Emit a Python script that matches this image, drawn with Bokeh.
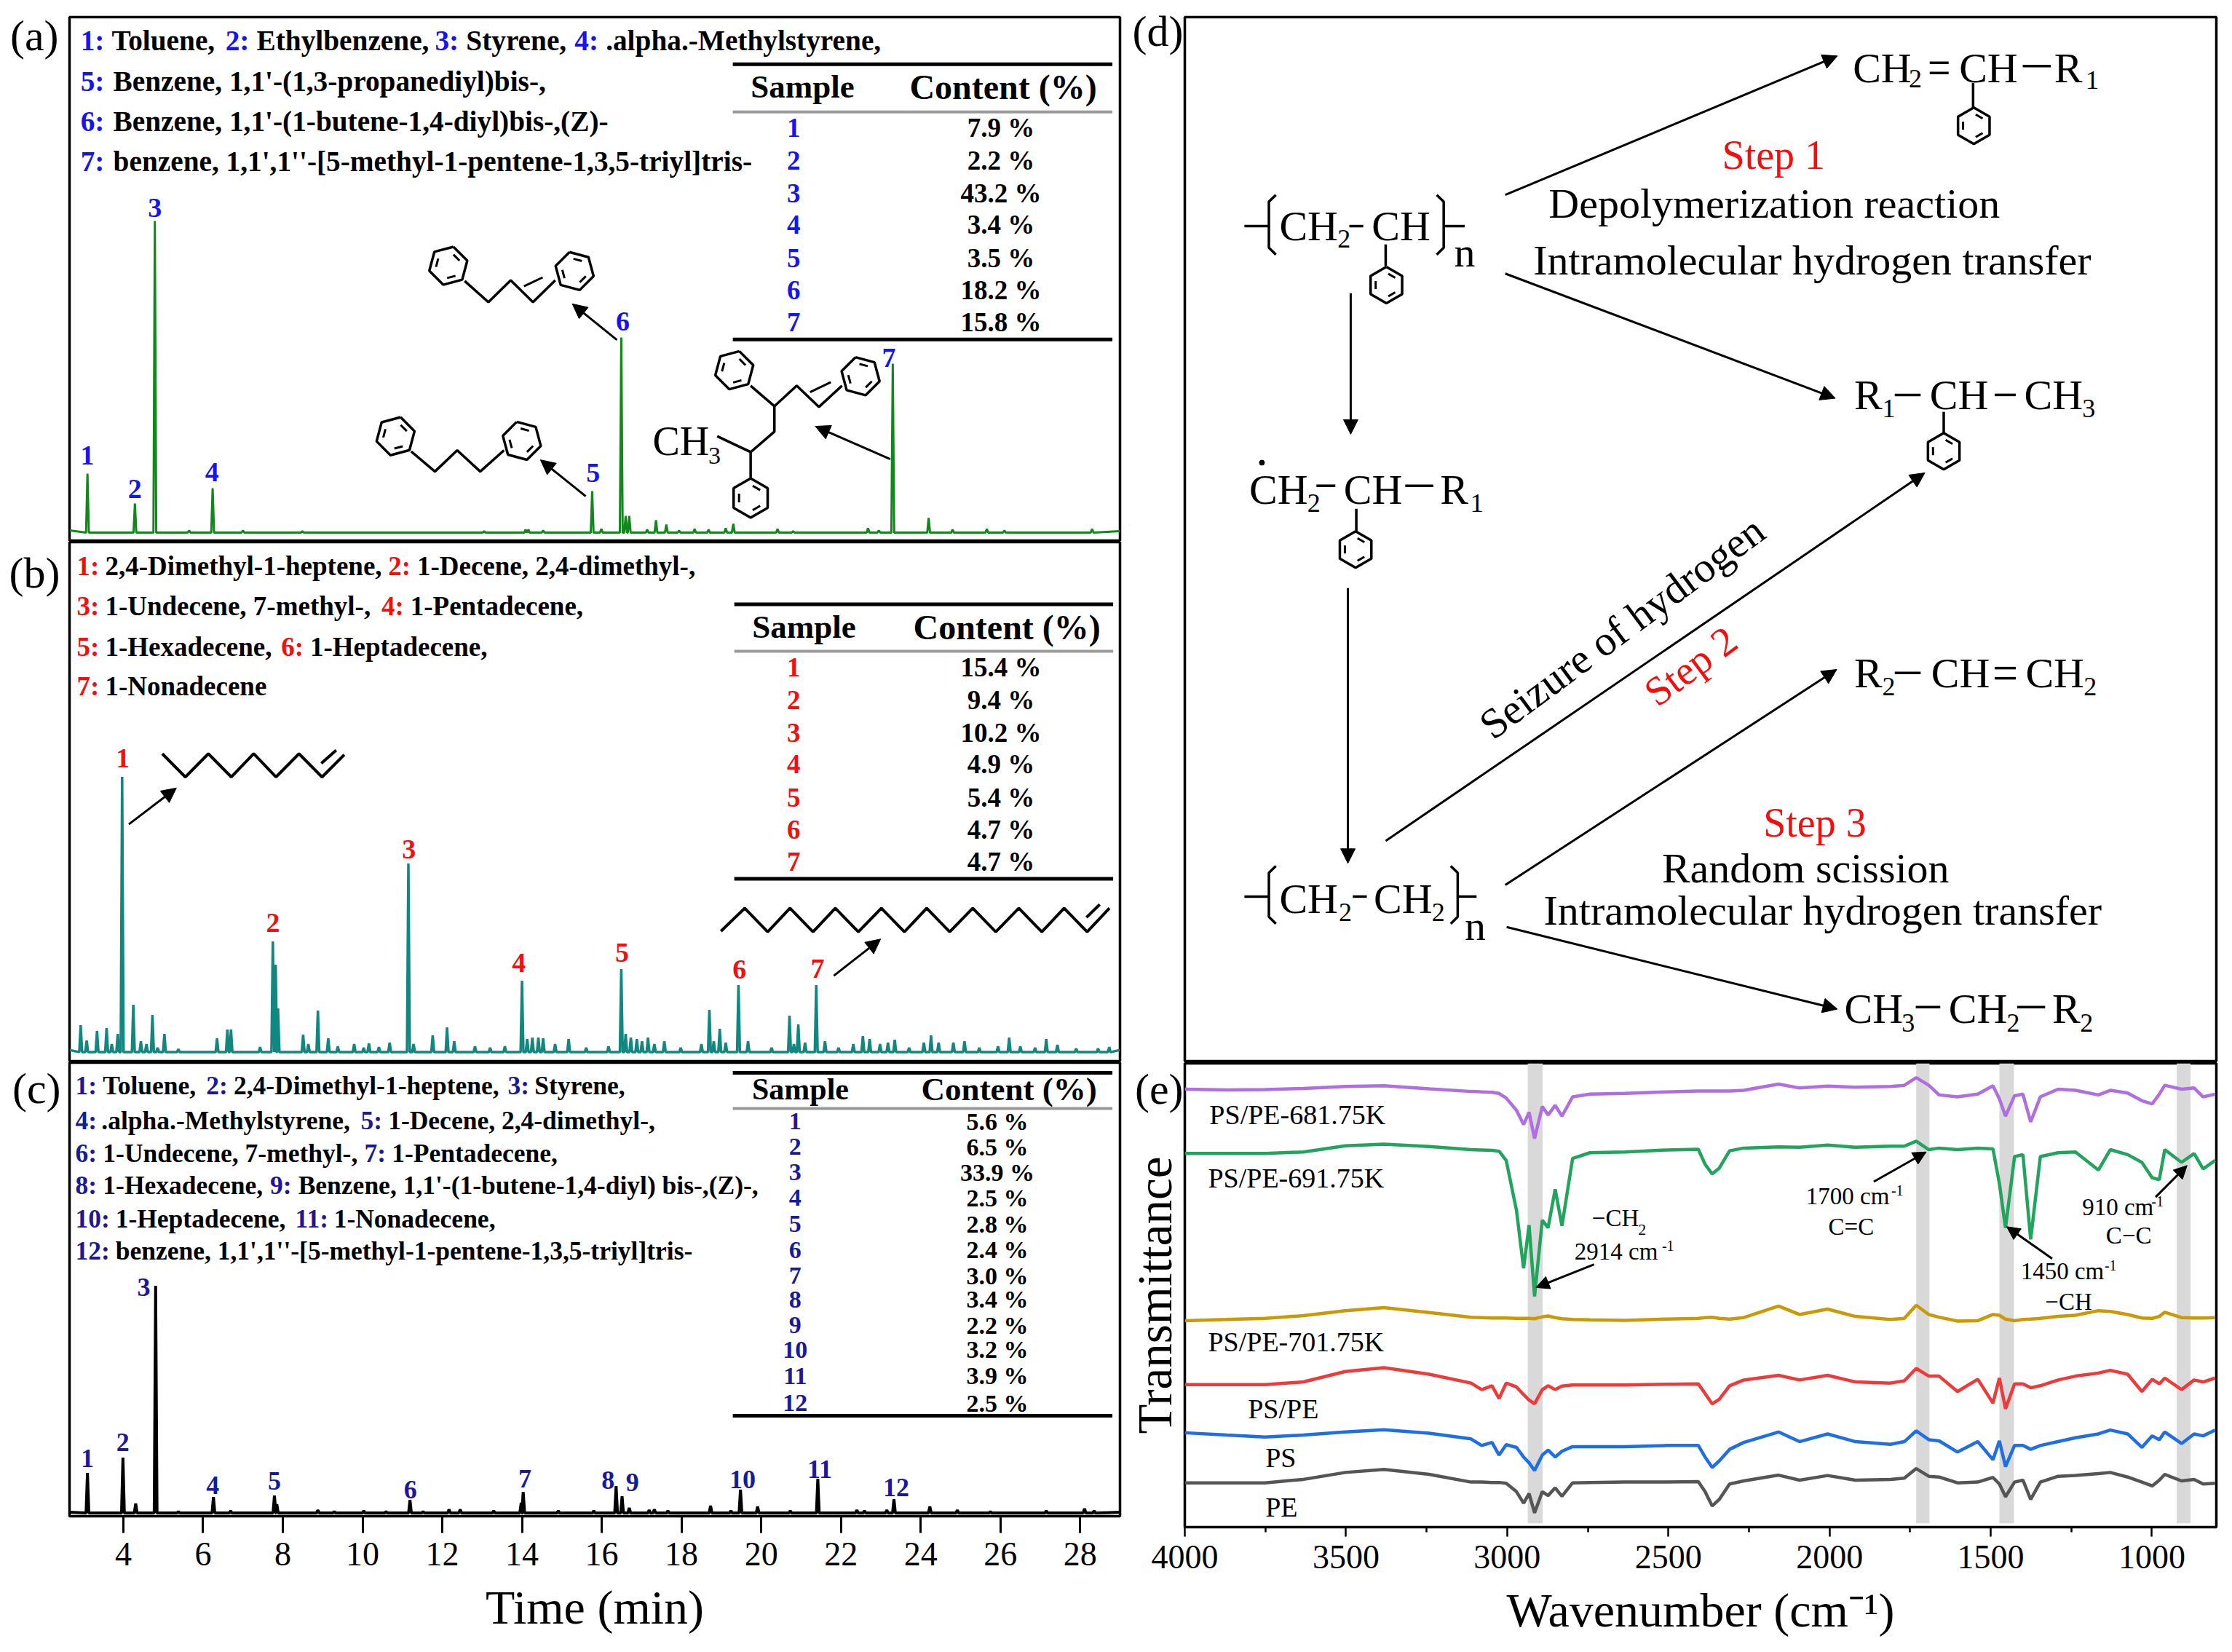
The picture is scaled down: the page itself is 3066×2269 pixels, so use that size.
import math
from bokeh.embed import file_html
from bokeh.layouts import column, row
from bokeh.models import Arrow, FixedTicker, Label, NormalHead, Range1d
from bokeh.plotting import figure
from bokeh.resources import INLINE

# ---------- data ----------
a_rt = [3.10, 4.29, 4.79, 5.65, 6.24, 7.00, 8.49, 13.05, 14.09, 14.16, 14.53, 15.76, 15.99, 16.49, 16.60, 16.69,
        17.14, 17.36, 17.62, 17.94, 18.33, 18.68, 19.11, 19.30, 20.41, 20.80, 22.68, 22.95, 23.30, 24.20, 24.80,
        25.66, 26.10, 28.30]
a_int = [81, 40, 428, 3, 61, 3, 2, 2, 4, 4, 3, 57, 5, 268, 23, 23, 4, 17, 11, 3, 5, 4, 6, 12, 5, 2, 6, 3, 232, 20, 4, 5, 3, 5]

b_rt = [2.93, 3.08, 3.34, 3.58, 3.71, 3.86, 3.97, 4.25, 4.44, 4.58, 4.73, 4.86, 5.03, 5.38, 6.35, 6.61, 6.70, 7.43,
        7.75, 7.82, 7.88, 8.51, 8.64, 8.88, 9.14, 9.38, 9.79, 10.03, 10.16, 10.41, 10.68, 11.15, 11.28, 11.76, 12.12,
        12.30, 12.82, 13.20, 13.57, 14.00, 14.13, 14.26, 14.41, 14.53, 14.83, 15.17, 15.61, 16.17, 16.49, 16.60, 16.73,
        16.88, 17.01, 17.16, 17.32, 17.57, 17.98, 18.50, 18.70, 18.81, 18.96, 19.11, 19.43, 19.67, 20.26, 20.71, 20.82,
        20.93, 21.10, 21.38, 21.60, 21.94, 22.31, 22.55, 22.72, 22.98, 23.18, 23.35, 23.71, 24.08, 24.26, 24.45, 24.82,
        25.10, 25.47, 25.94, 26.22, 26.50, 26.87, 27.15, 27.43, 27.90, 28.45, 28.73]
b_int = [37, 16, 29, 33, 11, 25, 378, 65, 15, 11, 51, 6, 25, 4, 19, 31, 31, 7,
         152, 120, 60, 24, 11, 57, 19, 8, 11, 6, 12, 7, 13, 259, 11, 23, 34,
         15, 8, 6, 8, 98, 18, 20, 20, 19, 11, 18, 6, 8, 114, 25, 20,
         18, 15, 20, 11, 15, 6, 11, 58, 15, 32, 13, 92, 15, 6, 50, 11,
         38, 13, 92, 15, 6, 11, 22, 18, 11, 13, 17, 6, 13, 23, 13, 13,
         15, 6, 8, 20, 8, 6, 18, 10, 5, 5, 7]

c_rt = [3.10, 3.99, 4.31, 4.81, 5.38, 6.26, 6.69, 7.79, 7.85, 8.88, 9.29, 10.03, 10.59, 11.19, 11.52, 12.17, 12.45, 13.29,
        13.98, 14.03, 14.91, 15.80, 16.36, 16.51, 16.69, 17.19, 17.32, 17.66, 18.73, 19.24, 19.48, 19.91, 20.73, 21.42,
        22.40, 22.59, 23.15, 23.33, 24.23, 24.92, 25.75, 27.15, 28.11, 28.35]
c_int = [55, 76, 13, 312, 2, 22, 3, 24, 12, 4, 2, 3, 2, 18, 2, 5, 5, 3,
         14, 29, 3, 3, 37, 23, 7, 4, 5, 3, 10, 3, 32, 9, 3, 47,
         4, 3, 4, 19, 9, 4, 2, 3, 6, 3]

time_ticks = [4, 6, 8, 10, 12, 14, 16, 18, 20, 22, 24, 26, 28]

table_a = ["7.9 %", "2.2 %", "43.2 %", "3.4 %", "3.5 %", "18.2 %", "15.8 %"]
table_b = ["15.4 %", "9.4 %", "10.2 %", "4.9 %", "5.4 %", "4.7 %", "4.7 %"]
table_c = ["5.6 %", "6.5 %", "33.9 %", "2.5 %", "2.8 %", "2.4 %", "3.0 %", "3.4 %", "2.2 %", "3.2 %", "3.9 %", "2.5 %"]

wavenumber = [4000, 3870, 3751, 3632, 3502, 3382, 3242, 3112, 3079, 3047, 3025, 3003, 2971, 2949, 2932, 2915, 2891, 2873,
              2851, 2830, 2797, 2743, 2635, 2505, 2407, 2386, 2364, 2342, 2310, 2266, 2158, 2093, 2006, 1920, 1811, 1768,
              1731, 1692, 1660, 1603, 1540, 1493, 1473, 1454, 1426, 1400, 1376, 1346, 1291, 1237, 1166, 1129, 1075, 1031,
              999, 977, 960, 908, 869, 841, 804]
ps_pe_681 = [105, 107, 106, 103, 98, 96, 104, 111, 112, 113, 116, 128, 160, 197, 165, 233, 150, 172, 147, 175, 125, 118, 116,
             112, 110, 110, 110, 110, 110, 108, 92, 102, 97, 100, 98, 95, 75, 95, 120, 125, 118, 96, 130, 175, 122, 118,
             190, 125, 105, 108, 120, 108, 115, 135, 143, 118, 95, 105, 102, 125, 118]
ps_pe_691 = [272, 272, 272, 268, 252, 248, 254, 262, 263, 264, 266, 290, 420, 570, 458, 643, 445, 465, 365, 460, 285, 270, 268,
             263, 261, 300, 325, 310, 265, 258, 255, 256, 250, 256, 253, 253, 240, 262, 258, 262, 258, 260, 350, 465, 280,
             275, 495, 280, 270, 268, 315, 262, 275, 295, 335, 340, 262, 295, 272, 312, 290]
ps_pe_701 = [706, 703, 700, 693, 680, 672, 685, 697, 698, 699, 699, 699, 700, 700, 700, 701, 696, 694, 698, 701, 703, 704, 705,
             702, 700, 698, 697, 700, 702, 698, 668, 690, 676, 695, 703, 700, 666, 690, 697, 707, 706, 690, 692, 702, 706,
             703, 702, 700, 695, 692, 680, 682, 690, 699, 700, 695, 684, 698, 699, 699, 698]
ps_pe = [872, 872, 872, 865, 838, 828, 845, 868, 885, 875, 908, 868, 878, 898, 912, 922, 885, 875, 885, 876, 873, 873, 873,
         871, 870, 895, 922, 910, 875, 860, 848, 860, 848, 865, 868, 862, 830, 850, 850, 890, 858, 920, 855, 935, 870,
         870, 880, 875, 860, 850, 842, 835, 845, 890, 858, 870, 855, 885, 860, 865, 855]
ps = [997, 1003, 1008, 1003, 995, 989, 998, 1013, 1030, 1022, 1055, 1028, 1035, 1060, 1075, 1095, 1055, 1042, 1060, 1045, 1033,
      1033, 1033, 1030, 1030, 1060, 1087, 1070, 1040, 1022, 995, 1020, 1000, 1020, 1027, 1020, 992, 1015, 1018, 1047, 1020,
      1067, 1018, 1085, 1030, 1030, 1040, 1030, 1020, 1010, 1000, 990, 1000, 1035, 1005, 1015, 995, 1025, 1000, 1005, 990]
pe = [1127, 1127, 1127, 1118, 1100, 1092, 1105, 1125, 1125, 1126, 1126, 1128, 1150, 1180, 1155, 1205, 1150, 1160, 1140, 1162,
      1127, 1126, 1125, 1125, 1124, 1150, 1187, 1170, 1130, 1122, 1107, 1120, 1108, 1120, 1118, 1115, 1090, 1110, 1112, 1127,
      1125, 1113, 1130, 1163, 1125, 1120, 1170, 1125, 1110, 1108, 1103, 1100, 1112, 1125, 1135, 1120, 1105, 1122, 1118, 1130, 1128]
band_left = [2936, 1731, 1473, 923]
band_right = [2890, 1690, 1428, 880]
wn_ticks = [4000, 3500, 3000, 2500, 2000, 1500, 1000]
wn_minor = [3750, 3250, 2750, 2250, 1750, 1250]

SERIF = "Liberation Serif"
BLUE, RED, NAVY = "#1515f0", "#f01010", "#1a1a96"


class Panel:
    def __init__(self, fig, frame, zoom):
        self.fig = fig
        self.fl, self.fr, self.ft, self.fb = frame
        self.ox, self.oy, self.sx, self.sy = zoom

    def z(self, zx, zy):
        return self.ox + zx / self.sx, self.oy + zy / self.sy

    def d(self, px, py):
        xr, yr = self.fig.x_range, self.fig.y_range
        x = xr.start + (px - self.fl) / (self.fr - self.fl) * (xr.end - xr.start)
        y = yr.end + (py - self.ft) / (self.fb - self.ft) * (yr.start - yr.end)
        return x, y

    def dz(self, zx, zy):
        return self.d(*self.z(zx, zy))

    def text(self, zx, zy, txt, size, color="black", bold=False, align="left", angle=0):
        x, y = self.dz(zx, zy)
        self.fig.add_layout(Label(x=x, y=y, text=txt, text_font=SERIF, text_font_size=f"{size}px", text_color=color,
                                  text_font_style="bold" if bold else "normal", text_align=align,
                                  text_baseline="middle", angle=angle, angle_units="deg"))

    def poly(self, pts, width=3.5, color="black"):
        q = [self.dz(*t) for t in pts]
        self.fig.line([a for a, _ in q], [b for _, b in q], line_color=color, line_width=width)

    def arrow(self, x0, y0, x1, y1, size=20, width=3):
        a, b = self.dz(x0, y0), self.dz(x1, y1)
        self.fig.add_layout(Arrow(end=NormalHead(size=size, fill_color="black", line_color="black", line_width=1),
                                  x_start=a[0], y_start=a[1], x_end=b[0], y_end=b[1], line_width=width, line_color="black"))

    def ring(self, zx, zy, r=27, rot=0, width=3.5):
        cx, cy = self.z(zx, zy)
        pts = [(cx + r * math.sin(math.radians(rot + 60 * i)), cy - r * math.cos(math.radians(rot + 60 * i))) for i in range(7)]
        q = [self.d(*t) for t in pts]
        self.fig.line([a for a, _ in q], [b for _, b in q], line_color="black", line_width=width)
        for i in (0, 2, 4):
            s = [(cx + 0.68 * (pts[i][0] - cx) + 0.12 * (pts[i + 1][0] - pts[i][0]), cy + 0.68 * (pts[i][1] - cy) + 0.12 * (pts[i + 1][1] - pts[i][1])),
                 (cx + 0.68 * (pts[i + 1][0] - cx) - 0.12 * (pts[i + 1][0] - pts[i][0]), cy + 0.68 * (pts[i + 1][1] - cy) - 0.12 * (pts[i + 1][1] - pts[i][1]))]
            qq = [self.d(*t) for t in s]
            self.fig.line([a for a, _ in qq], [b for _, b in qq], line_color="black", line_width=width - 0.5)


def make_fig(w, h, borders, xr, yr, letter, letter_y, standoff, axis=False):
    l, r, t, b = borders
    p = figure(width=w, height=h, x_range=Range1d(*xr), y_range=Range1d(*yr), output_backend="svg", toolbar_location=None,
               x_axis_location="below" if axis else None, y_axis_location="left",
               min_border_left=l, min_border_right=r, min_border_top=t, min_border_bottom=b)
    p.grid.visible = False
    p.outline_line_color = "black"
    p.outline_line_width = 3.5
    p.background_fill_color = "white"
    p.border_fill_color = "white"
    ya = p.yaxis[0]
    ya.ticker = FixedTicker(ticks=[letter_y])
    ya.major_label_overrides = {letter_y: letter}
    ya.major_label_text_font = SERIF
    ya.major_label_text_font_size = "60px"
    ya.major_label_text_color = "black"
    ya.major_label_standoff = standoff
    ya.major_label_orientation = "horizontal"
    ya.axis_line_color = None
    ya.major_tick_line_color = None
    ya.minor_tick_line_color = None
    ya.major_tick_out = 0
    ya.major_tick_in = 0
    ya.minor_tick_out = 0
    ya.minor_tick_in = 0
    return p


def peaks_line(rt, inten, left, right, hw=0.035):
    xs, ys = [2.65], [left]
    for r, h in zip(rt, inten):
        xs += [r - hw, r, r + hw]
        ys += [0, h, 0]
    xs.append(29.0)
    ys.append(right)
    return xs, ys


TIME = (2.65, 29.0)
fa = make_fig(1545, 744, (95, 7, 23, 2), TIME, (-11, 708), "(a)", 683, 15)
fb = make_fig(1545, 715, (95, 7, 0, 2), TIME, (-12.4, 700.6), "(b)", 677, 13)
fc = make_fig(1545, 802, (95, 7, 0, 179), TIME, (-4.4, 618.6), "(c)", 588, 12, axis=True)
fd = make_fig(1511, 1459, (82, 12, 23, 2), (0, 1417), (0, 1434), "(d)", 1415, 2)
fe = make_fig(1511, 802, (82, 12, 1, 164), (4000, 800), (1242, 38), "(e)", 105, 2, axis=True)

A = Panel(fa, (95, 1538, 23, 742), (0, 0, 0.98, 2.063))
B = Panel(fb, (95, 1538, 742, 1457), (0, 740, 0.98, 2.119))
C = Panel(fc, (95, 1538, 1459, 2082), (0, 1460, 0.98, 1.938))
D = Panel(fd, (1627, 3044, 23, 1457), (1560, 0, 1.041, 1.074))
E = Panel(fe, (1627, 3044, 1460, 2097), (1560, 1440, 1.041, 1.891))

x, y = peaks_line(a_rt, a_int, 3, 2)
fa.line(x, y, line_color="#12871c", line_width=3)
x, y = peaks_line(b_rt, b_int, 3, 3)
fb.line(x, y, line_color="#12877f", line_width=3.5)
x, y = peaks_line(c_rt, c_int, 1, 1)
fc.line(x, y, line_color="black", line_width=4)

# axes
ax = fc.xaxis[0]
ax.ticker = FixedTicker(ticks=time_ticks)
ax.axis_label = "Time (min)"
ax.axis_label_text_font = SERIF
ax.axis_label_text_color = "black"
ax.axis_label_text_font_size = "66px"
ax.axis_label_text_font_style = "normal"
ax.axis_label_standoff = 18
ax.major_label_text_font = SERIF
ax.major_label_text_color = "black"
ax.major_label_text_font_size = "46px"
ax.major_label_standoff = 13
ax.major_tick_out = 23
ax.major_tick_in = 0
ax.major_tick_line_width = 3
ax.minor_tick_line_color = None
ax.axis_line_width = 3

ax = fe.xaxis[0]
ax.ticker = FixedTicker(ticks=wn_ticks, minor_ticks=wn_minor)
ax.axis_label = "Wavenumber (cm\u207b\u00b9)"
ax.axis_label_text_font = SERIF
ax.axis_label_text_color = "black"
ax.axis_label_text_font_size = "66px"
ax.axis_label_text_font_style = "normal"
ax.axis_label_standoff = 18
ax.major_label_text_font = SERIF
ax.major_label_text_color = "black"
ax.major_label_text_font_size = "46px"
ax.major_label_standoff = 12
ax.major_tick_out = 13
ax.major_tick_in = 0
ax.minor_tick_out = 7
ax.minor_tick_in = 0
ax.major_tick_line_width = 2.5
ax.minor_tick_line_width = 2.5
ax.axis_line_width = 3

ya = fe.yaxis[0]
ya.axis_label = "Transmittance"
ya.axis_label_text_font = SERIF
ya.axis_label_text_color = "black"
ya.axis_label_text_font_size = "67px"
ya.axis_label_text_font_style = "normal"
ya.axis_label_standoff = -67


def legend(P, rows, size, color):
    for zy, segs in rows:
        for zx, txt, num in segs:
            P.text(zx, zy, txt, size, color if num else "black", bold=True)


legend(A, [
    (115, [(108, "1:", 1), (150, "Toluene,", 0), (303, "2:", 1), (345, "Ethylbenzene,", 0), (585, "3:", 1), (627, "Styrene,", 0), (773, "4:", 1), (815, ".alpha.-Methylstyrene,", 0)]),
    (230, [(108, "5:", 1), (152, "Benzene, 1,1'-(1,3-propanediyl)bis-,", 0)]),
    (343, [(108, "6:", 1), (152, "Benzene, 1,1'-(1-butene-1,4-diyl)bis-,(Z)-", 0)]),
    (457, [(108, "7:", 1), (152, "benzene, 1,1',1''-[5-methyl-1-pentene-1,3,5-triyl]tris-", 0)]),
], 39.3, BLUE)
legend(B, [
    (75, [(103, "1:", 1), (141, "2,4-Dimethyl-1-heptene,", 0), (522, "2:", 1), (561, "1-Decene, 2,4-dimethyl-,", 0)]),
    (192, [(103, "3:", 1), (141, "1-Undecene, 7-methyl-,", 0), (513, "4:", 1), (552, "1-Pentadecene,", 0)]),
    (310, [(103, "5:", 1), (141, "1-Hexadecene,", 0), (378, "6:", 1), (417, "1-Heptadecene,", 0)]),
    (425, [(103, "7:", 1), (141, "1-Nonadecene", 0)]),
], 37, RED)
legend(C, [
    (60, [(101, "1:", 1), (138, "Toluene,", 0), (277, "2:", 1), (314, "2,4-Dimethyl-1-heptene,", 0), (683, "3:", 1), (719, "Styrene,", 0)]),
    (152, [(101, "4:", 1), (136, ".alpha.-Methylstyrene,", 0), (485, "5:", 1), (522, "1-Decene, 2,4-dimethyl-,", 0)]),
    (240, [(101, "6:", 1), (138, "1-Undecene, 7-methyl-,", 0), (490, "7:", 1), (527, "1-Pentadecene,", 0)]),
    (325, [(101, "8:", 1), (138, "1-Hexadecene,", 0), (363, "9:", 1), (401, "Benzene, 1,1'-(1-butene-1,4-diyl) bis-,(Z)-,", 0)]),
    (413, [(101, "10:", 1), (155, "1-Heptadecene,", 0), (397, "11:", 1), (449, "1-Nonadecene,", 0)]),
    (500, [(101, "12:", 1), (155, "benzene, 1,1',1''-[5-methyl-1-pentene-1,3,5-triyl]tris-", 0)]),
], 35.5, NAVY)


def table(P, rules, hdr, hx, rows_y, values, nx, vx, color, hsize, size, rule_x):
    x0, x1 = rule_x
    P.poly([(x0, rules[0]), (x1, rules[0])], 5)
    P.poly([(x0, rules[1]), (x1, rules[1])], 4, "#9a9a9a")
    P.poly([(x0, rules[2]), (x1, rules[2])], 5)
    P.text(hx[0], hdr, "Sample", hsize, bold=True, align="center")
    P.text(hx[1], hdr, "Content (%)", hsize + 3, bold=True, align="center")
    for i, (yy, v) in enumerate(zip(rows_y, values)):
        P.text(nx, yy, str(i + 1), size, color, bold=True, align="center")
        P.text(vx, yy, v, size, bold=True, align="center")


table(A, (181, 316, 961), 245, (1080, 1350), [360, 454, 546, 636, 730, 822, 912], table_a, 1068, 1347, BLUE, 45, 37, (986, 1497))
table(B, (186, 323, 987), 252, (1082, 1355), [370, 465, 560, 653, 750, 843, 938], table_b, 1068, 1347, RED, 45, 37, (988, 1498))
table(C, (25, 120, 938), 68, (1077, 1358), [155, 222, 290, 358, 428, 497, 565, 628, 697, 762, 832, 905], table_c, 1070, 1342, NAVY, 42, 34, (986, 1497))

# peak numbers
for (zx, zy), n in zip([(117, 1290), (181, 1385), (208, 587), (285, 1337), (798, 1338), (838, 910), (1196, 1012)], range(1, 8)):
    A.text(zx, zy, str(n), 38, BLUE, bold=True, align="center")
for (zx, zy), n in zip([(165, 635), (367, 1115), (550, 900), (698, 1233), (837, 1203), (995, 1252), (1100, 1250)], range(1, 8)):
    B.text(zx, zy, str(n), 38, RED, bold=True, align="center")
for (zx, zy), n in zip([(117, 1052), (165, 1008), (193, 596), (286, 1123), (369, 1112), (552, 1135), (706, 1105), (818, 1110),
                        (851, 1115), (999, 1107), (1103, 1080), (1206, 1128)], range(1, 13)):
    C.text(zx, zy, str(n), 36, NAVY, bold=True, align="center")

# structures, panel (a)
A.ring(603, 752, 27, 15); A.ring(773, 767, 27, -15)
A.poly([(625, 795), (657, 855), (687, 793), (717, 855), (747, 793)])
A.poly([(705, 810), (730, 785)], 3)
A.arrow(830, 962, 770, 860)
A.ring(532, 1235, 27, 15); A.ring(702, 1248, 27, -15)
A.poly([(553, 1278), (585, 1335), (615, 1275), (646, 1335), (678, 1275)])
A.arrow(788, 1405, 727, 1302)
A.ring(988, 1048, 27, 15); A.ring(1158, 1065, 27, -15); A.ring(1010, 1410, 27, 0)
A.poly([(1010, 1092), (1042, 1150), (1072, 1092), (1102, 1152), (1133, 1092)])
A.poly([(1090, 1110), (1118, 1082)], 3)
A.poly([(1042, 1150), (1042, 1222), (1010, 1280), (965, 1235)])
A.poly([(1010, 1280), (1010, 1355)])
A.text(878, 1250, "CH", 56)
A.text(953, 1290, "3", 34)
A.arrow(1198, 1300, 1097, 1207)

# structures, panel (b)
B.poly([(218, 622), (249, 690), (280, 622), (311, 690), (341, 622), (371, 690), (402, 622), (433, 690), (463, 625)], 4)
B.poly([(432, 650), (452, 612)], 4)
B.arrow(173, 828, 237, 722)
B.poly([(970, 1140), (1002, 1073), (1033, 1142), (1063, 1073), (1094, 1142), (1124, 1073), (1155, 1142), (1186, 1073), (1217, 1142),
        (1247, 1073), (1278, 1142), (1309, 1073), (1340, 1142), (1371, 1073), (1402, 1142), (1432, 1073), (1463, 1142), (1493, 1073)], 4)
B.poly([(1462, 1100), (1480, 1062)], 4)
B.arrow(1122, 1270, 1185, 1163)

# scheme, panel (d)
S, SUB = 58, 36
D.text(838, 228, "Step 1", 56, RED)
D.text(590, 300, "Depolymerization reaction", S)
D.text(568, 383, "Intramolecular hydrogen transfer", S)
D.text(897, 1213, "Step 3", 56, RED)
D.text(752, 1280, "Random scission", S)
D.text(583, 1343, "Intramolecular hydrogen transfer", S)
D.text(695, 925, "Seizure of hydrogen", S, align="center", angle=36.6)
D.text(793, 982, "Step 2", 56, RED, align="center", angle=36.6)
for zx, zy, tx, sz in [
    (1025, 100, "CH", S), (1105, 115, "2", SUB), (1177, 100, "CH", S), (1313, 100, "R", S), (1358, 118, "1", SUB),
    (1027, 582, "R", S), (1067, 602, "1", SUB), (1135, 582, "CH", S), (1270, 582, "CH", S), (1353, 602, "3", SUB),
    (1027, 992, "R", S), (1067, 1012, "2", SUB), (1137, 992, "CH", S), (1272, 992, "CH", S), (1355, 1012, "2", SUB),
    (1013, 1488, "CH", S), (1095, 1508, "3", SUB), (1162, 1488, "CH", S), (1245, 1508, "2", SUB), (1310, 1488, "R", S), (1350, 1508, "2", SUB),
    (205, 333, "CH", S), (288, 352, "2", SUB), (337, 333, "CH", S), (455, 372, "n", S),
    (162, 722, "CH", S), (245, 742, "2", SUB), (297, 722, "CH", S), (435, 722, "R", S), (478, 742, "1", SUB),
    (205, 1325, "CH", S), (290, 1345, "2", SUB), (340, 1325, "CH", S), (423, 1345, "2", SUB), (470, 1365, "n", S),
]:
    D.text(zx, zy, tx, sz)
for seg in [
    [(1135, 92), (1162, 92)], [(1135, 107), (1162, 107)], [(1268, 97), (1308, 97)], [(1197, 122), (1197, 160)],
    [(1085, 582), (1122, 582)], [(1228, 582), (1258, 582)], [(1155, 607), (1155, 640)],
    [(1085, 992), (1122, 992)], [(1228, 985), (1258, 985)], [(1228, 1000), (1258, 1000)],
    [(1115, 1485), (1150, 1485)], [(1260, 1485), (1300, 1485)],
    [(305, 333), (325, 333)], [(357, 360), (357, 392)],
    [(258, 716), (285, 716)], [(385, 716), (425, 716)], [(315, 750), (315, 785)],
    [(310, 1322), (330, 1322)],
    [(155, 333), (190, 333)], [(200, 287), (190, 297), (190, 365), (200, 375)],
    [(430, 287), (440, 297), (440, 365), (430, 375)], [(440, 333), (470, 333)],
    [(155, 1322), (190, 1322)], [(200, 1277), (190, 1287), (190, 1352), (200, 1362)],
    [(450, 1277), (460, 1287), (460, 1352), (450, 1362)], [(460, 1322), (487, 1322)],
]:
    D.poly(seg, 3.5)
D.ring(1198, 185, 25, 0); D.ring(1155, 665, 25, 0); D.ring(358, 420, 25, 0); D.ring(314, 810, 25, 0)
dot = D.dz(180, 682)
fd.scatter([dot[0]], [dot[1]], size=7, color="black")
for a in [(528, 287, 1003, 82), (528, 403, 1000, 587), (307, 432, 307, 640), (303, 867, 303, 1273),
          (357, 1240, 1128, 697), (528, 1305, 1002, 987), (530, 1367, 1003, 1488)]:
    D.arrow(*a)

# FTIR, panel (e)
fe.quad(left=band_left, right=band_right, top=[38] * 4, bottom=[1232] * 4, fill_color="#d9d9d9", line_color=None)
for series, col in [(ps_pe_681, "#b06fe0"), (ps_pe_691, "#22a35e"), (ps_pe_701, "#c99a06"), (ps_pe, "#ec3b3b"), (ps, "#1f6fe3"), (pe, "#555555")]:
    fe.line(wavenumber, series, line_color=col, line_width=4.5)
for zx, zy, tx in [(105, 172, "PS/PE-681.75K"), (103, 335, "PS/PE-691.75K"), (103, 762, "PS/PE-701.75K"),
                   (160, 935, "PS/PE"), (185, 1062, "PS"), (185, 1190, "PE")]:
    E.text(zx, zy, tx, 38)
for zx, zy, tx, sz in [(652, 440, "\u2212CH", 33), (718, 470, "2", 22), (627, 527, "2914 cm", 33), (752, 512, "-1", 20),
                       (958, 383, "1700 cm", 33), (1080, 368, "-1", 20), (990, 463, "C=C", 33),
                       (1265, 578, "1450 cm", 33), (1385, 563, "-1", 20), (1300, 657, "\u2212CH", 33),
                       (1353, 412, "910 cm", 33), (1452, 397, "-1", 20), (1387, 485, "C\u2212C", 33)]:
    E.text(zx, zy, tx, sz)
for a in [(655, 560, 572, 620), (1055, 345, 1130, 268), (1310, 545, 1245, 462), (1458, 385, 1503, 303)]:
    E.arrow(*a, size=18)

root = row(column(fa, fb, fc), column(fd, fe))
open("out.html", "w").write(file_html(root, INLINE))
